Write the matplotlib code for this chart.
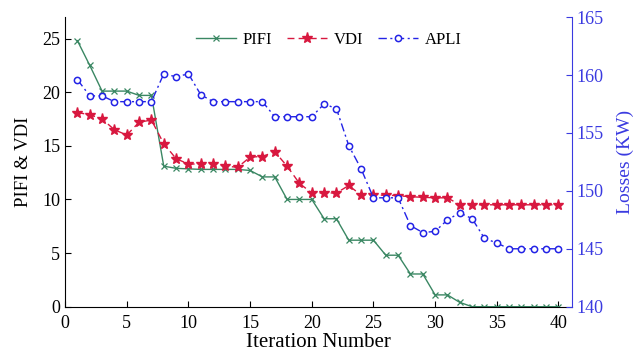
import matplotlib
matplotlib.use("Agg")
import matplotlib.pyplot as plt
import numpy as np

plt.rcParams['font.family'] = ['Liberation Serif', 'DejaVu Serif']
plt.rcParams['mathtext.fontset'] = 'stix'

iterations = list(range(1, 41))
pifi = [24.8, 22.5, 20.1, 20.1, 20.1, 19.7, 19.7, 13.1, 12.9, 12.85,
        12.8, 12.8, 12.8, 12.8, 12.7, 12.1, 12.1, 10.0, 10.0, 10.0,
        8.2, 8.2, 6.2, 6.2, 6.2, 4.8, 4.8, 3.05, 3.05, 1.1,
        1.1, 0.4, 0.0, 0.0, 0.0, 0.0, 0.0, 0.0, 0.0, 0.0]
vdi = [18.1, 17.9, 17.5, 16.5, 16.0, 17.2, 17.4, 15.2, 13.8, 13.3,
       13.3, 13.3, 13.1, 13.0, 13.95, 14.0, 14.45, 13.1, 11.5, 10.6,
       10.6, 10.6, 11.3, 10.4, 10.4, 10.4, 10.35, 10.25, 10.2, 10.15,
       10.15, 9.5, 9.5, 9.5, 9.5, 9.5, 9.5, 9.5, 9.5, 9.5]
apli = [159.6, 158.2, 158.2, 157.7, 157.7, 157.7, 157.7, 160.1, 159.85, 160.1,
        158.3, 157.7, 157.7, 157.7, 157.7, 157.7, 156.4, 156.4, 156.4, 156.4,
        157.5, 157.1, 153.9, 151.9, 149.4, 149.4, 149.4, 147.0, 146.4, 146.5,
        147.5, 148.1, 147.6, 145.9, 145.5, 145.0, 145.0, 145.0, 145.0, 145.0]

x_ticks = [0, 5, 10, 15, 20, 25, 30, 35, 40]
left_ticks = [0, 5, 10, 15, 20, 25]
right_ticks = [140, 145, 150, 155, 160, 165]

green = '#3a8763'
red = '#d8183f'
blue = '#2323e6'
axblue = '#3a3ae0'

fig = plt.figure(figsize=(6.38, 3.56), dpi=100)
ax = fig.add_axes([0.102, 0.1385, 0.7946, 0.8135])
ax2 = ax.twinx()

l1, = ax.plot(iterations, pifi, color=green, lw=1.0, marker='x', ms=4.5, mew=0.9, label='PIFI')
l2, = ax.plot(iterations, vdi, color=red, lw=1.0, ls=(0, (5, 3)), marker='*', ms=8, mew=1.0, label='VDI')
l3, = ax2.plot(iterations, apli, color=blue, lw=1.0, ls=(0, (6, 2.5, 1.5, 2.5)), marker='o', ms=4.5,
               mfc='white', mec=blue, mew=1.1, label='APLI')

ax.set_xlim(0, 41.1)
ax.set_ylim(0, 27)
ax2.set_ylim(140, 165)
ax.set_xticks(x_ticks)
ax.set_yticks(left_ticks)
ax2.set_yticks(right_ticks)

for a in (ax, ax2):
    a.spines['top'].set_visible(False)
ax.spines['right'].set_visible(False)
ax2.spines['left'].set_visible(False)
ax2.spines['bottom'].set_visible(False)
ax2.spines['right'].set_color(axblue)

ax.tick_params(axis='both', direction='in', labelsize=13, length=4, width=0.8)
ax.tick_params(axis='x', pad=6)
ax2.tick_params(axis='y', direction='in', labelsize=13, length=4, width=0.8,
                colors=axblue, labelcolor=axblue)

ax.set_xlabel('Iteration Number', fontsize=15, labelpad=1)
ax.set_ylabel('PIFI & VDI', fontsize=13.5, labelpad=7)
ax2.set_ylabel('Losses (KW)', fontsize=14, color=axblue, labelpad=9)

ax.legend(handles=[l1, l2, l3], loc='upper center', bbox_to_anchor=(0.52, 1.0), ncol=3,
          frameon=False, fontsize=12, handlelength=2.4, columnspacing=0.9, handletextpad=0.4)

fig.savefig('out.png', dpi=100)
